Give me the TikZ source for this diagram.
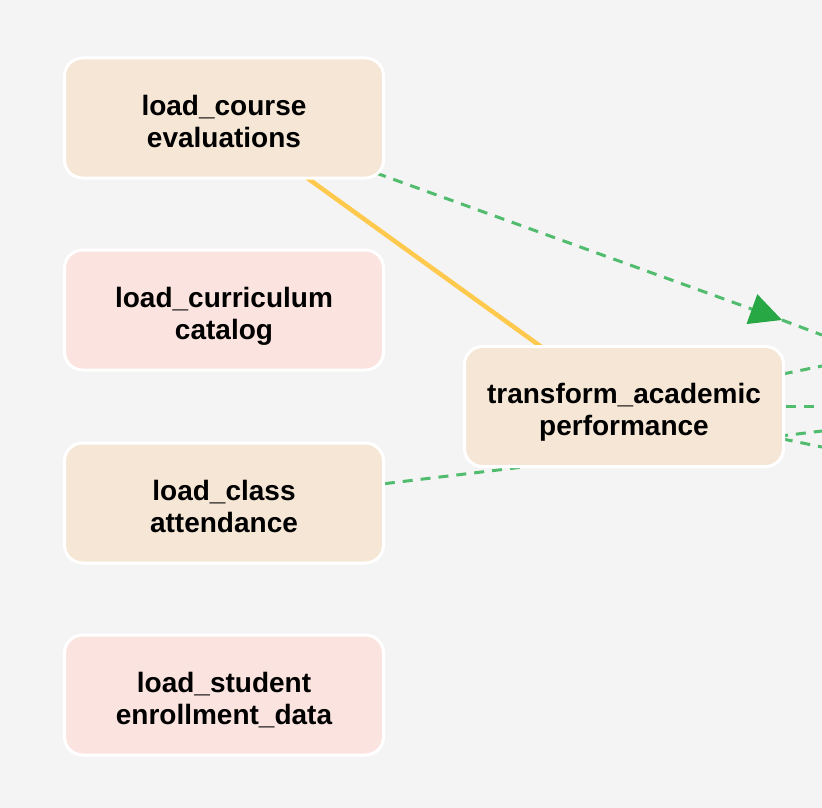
\documentclass[tikz,border=0pt]{standalone}
\usepackage{fontspec}
\setmainfont{Liberation Sans}
\usetikzlibrary{arrows.meta,backgrounds}
\definecolor{bgc}{HTML}{F4F4F4}
\definecolor{beige}{HTML}{F5E6D6}
\definecolor{pinkc}{HTML}{FBE4E0}
\definecolor{gline}{HTML}{52BC6E}
\definecolor{garrow}{HTML}{28A745}
\definecolor{yline}{HTML}{FFC94D}
\tikzset{
  task/.style={draw=white, line width=3pt, rounded corners=18pt,
    minimum width=319pt, minimum height=120pt, align=center,
    font=\fontsize{28}{32}\selectfont\bfseries, text=black,
    text height=60pt, text depth=2pt},
  loadok/.style={task, fill=beige},
  loadfail/.style={task, fill=pinkc},
  gdash/.style={draw=gline, line width=3pt, dash pattern=on 10pt off 8pt},
  ysolid/.style={draw=yline, line width=4.5pt},
}
\begin{document}
\begin{tikzpicture}[x=1pt,y=-1pt]
\useasboundingbox (0,0) rectangle (822,808);
\node[loadok]   (lc) at (224,118) {load\_course\\evaluations};
\node[loadfail] (cc) at (224,310) {load\_curriculum\\catalog};
\node[loadok]   (ca) at (224,503) {load\_class\\attendance};
\node[loadfail] (se) at (224,695) {load\_student\\enrollment\_data};
\node[loadok]   (tr) at (624,406.5) {transform\_academic\\performance};
\coordinate (tip) at (782,320);
\coordinate (e1) at (822,335);
\coordinate (e2) at (822,431);
\coordinate (e3) at (822,366);
\coordinate (e4) at (822,406.5);
\coordinate (e5) at (822,447);
\begin{pgfonlayer}{background}
  \fill[bgc] (0,0) rectangle (822,808);
  \draw[ysolid] (lc.center) -- (tr.center);
  \draw[gdash,-{Triangle[length=32pt,width=31pt,color=garrow]}] (lc.center) -- (tip);
  \draw[gdash] (tip) -- (e1);
  \draw[gdash] (ca.center) -- (e2);
  \draw[gdash] (tr.center) -- (e3);
  \draw[gdash] (tr.center) -- (e4);
  \draw[gdash] (tr.center) -- (e5);
\end{pgfonlayer}
\end{tikzpicture}
\end{document}
